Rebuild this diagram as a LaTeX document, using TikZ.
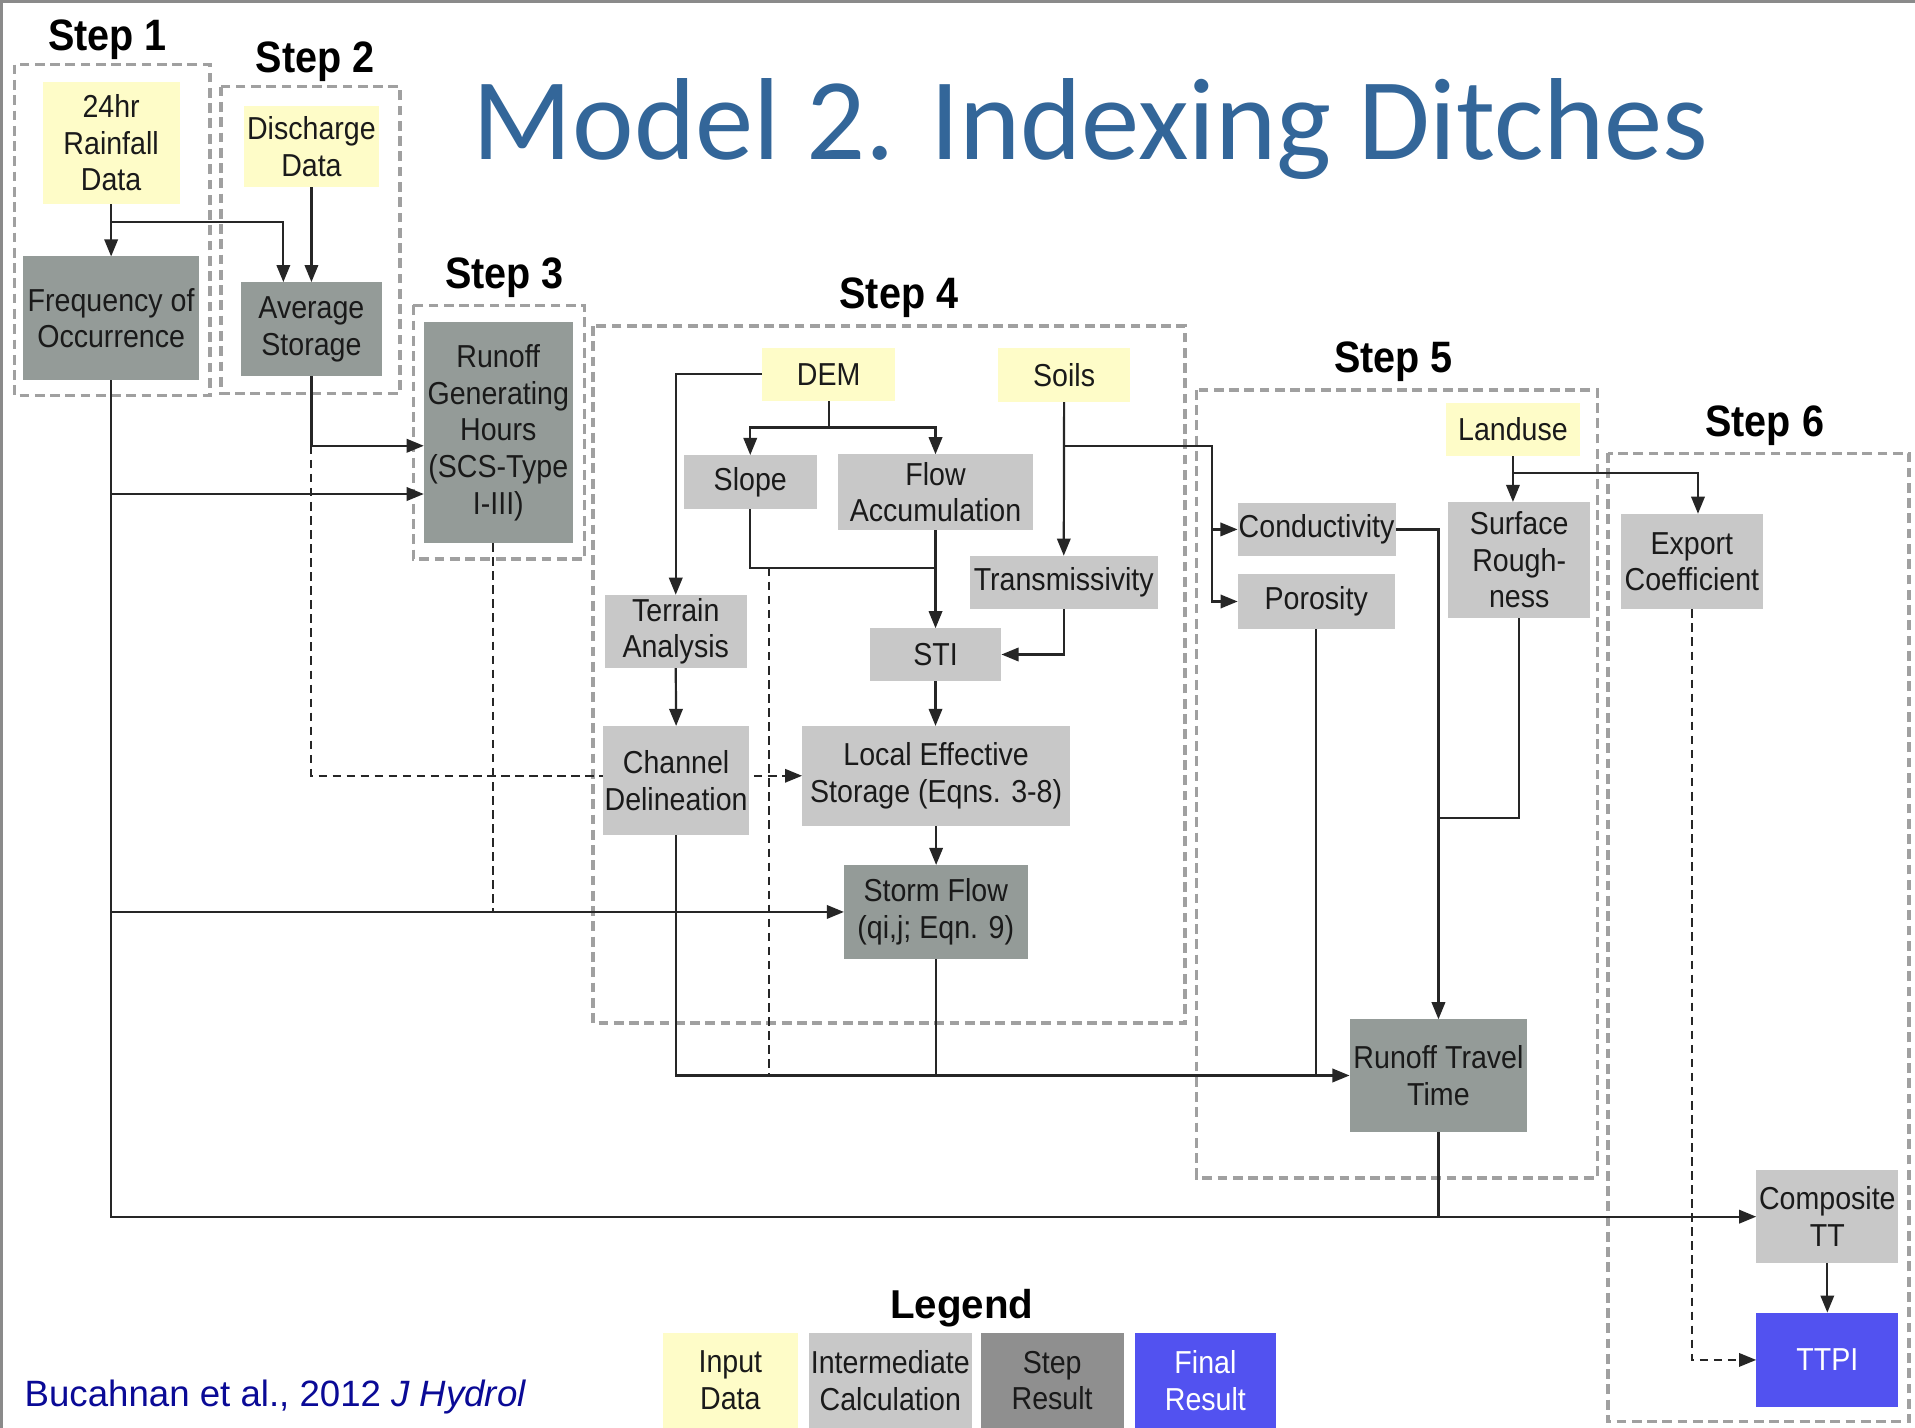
\documentclass[tikz,border=0pt]{standalone}
\usepackage{fontspec}
\setmainfont{Liberation Sans}
\newfontfamily\boxfont{Liberation Sans}[FakeStretch=0.9]
\newfontfamily\titlefont{Carlito}
\usetikzlibrary{arrows.meta,calc}
\pgfdeclarelayer{background}
\pgfsetlayers{background,main}
\definecolor{inputc}{HTML}{FEFCC8}
\definecolor{interc}{HTML}{C8C8C8}
\definecolor{stepc}{HTML}{949B98}
\definecolor{lstepc}{HTML}{8F8F8F}
\definecolor{finalc}{HTML}{5252F0}
\definecolor{grpc}{HTML}{A0A0A0}
\definecolor{linec}{HTML}{262626}
\definecolor{txtc}{HTML}{1A1A1A}
\definecolor{titlec}{HTML}{336699}
\definecolor{citec}{HTML}{0A0A96}
\definecolor{framec}{HTML}{8A8A8A}
\begin{document}
\begin{tikzpicture}[x=1pt,y=-1pt,
  box/.style={inner sep=0pt, outer sep=0pt, align=center, text=txtc, font=\boxfont\fontsize{26}{30}\selectfont},
  inp/.style={box, fill=inputc},
  mid/.style={box, fill=interc},
  res/.style={box, fill=stepc},
  lres/.style={box, fill=lstepc},
  fin/.style={box, fill=finalc, text=white},
  grp/.style={draw=grpc, line width=2.8pt, dash pattern=on 8pt off 4.5pt},
  conn/.style={draw=linec, line width=1.8pt},
  arr/.style={conn, -{Triangle[length=14pt,width=11pt]}},
  dconn/.style={conn, line width=1.6pt, dash pattern=on 7pt off 4.5pt},
  darr/.style={dconn, -{Triangle[length=14pt,width=11pt]}},
  steplbl/.style={anchor=base, inner sep=0pt, font=\boxfont\bfseries\fontsize{36}{40}\selectfont, text=black},
]
\useasboundingbox (0,0) rectangle (1568,1169);

% title and labels
\node[anchor=base west, inner sep=0pt, text=titlec, font=\titlefont\fontsize{95.5}{100}\selectfont] (title) at (387,130.4) {Model 2. Indexing Ditches};
\node[steplbl] (s1) at (88,41) {Step 1};
\node[steplbl] (s2) at (258,59) {Step 2};
\node[steplbl] (s3) at (413,236) {Step 3};
\node[steplbl] (s4) at (736,252.5) {Step 4};
\node[steplbl] (s5) at (1141,305) {Step 5};
\node[steplbl] (s6) at (1445,357) {Step 6};
\node[anchor=base, inner sep=0pt, font=\bfseries\fontsize{33}{36}\selectfont, text=black] (leg) at (787.5,1079.5) {Legend};
\node[anchor=base west, inner sep=0pt, text=citec, font=\fontsize{30}{34}\selectfont] (cite) at (20,1152) {Bucahnan et al., 2012 \textit{J Hydrol}};

% nodes
\node[inp, minimum width=112pt, minimum height=100pt] (rain) at (91,117) {24hr\\Rainfall\\Data};
\node[inp, minimum width=110pt, minimum height=66pt] (disch) at (255,120) {Discharge\\Data};
\node[res, minimum width=144pt, minimum height=101pt] (freq) at (91,260.5) {Frequency of\\Occurrence};
\node[res, minimum width=116pt, minimum height=77pt] (avg) at (255,269.5) {Average\\Storage};
\node[res, minimum width=122pt, minimum height=181pt] (rgh) at (408,354.3) {Runoff\\Generating\\Hours\\(SCS-Type\\I-III)};
\node[inp, minimum width=109pt, minimum height=43pt] (dem) at (678.5,306.5) {DEM};
\node[inp, minimum width=108.5pt, minimum height=44pt] (soils) at (871.3,307) {Soils};
\node[mid, minimum width=108.5pt, minimum height=44.5pt] (slope) at (614.3,394.8) {Slope};
\node[mid, minimum width=160pt, minimum height=62pt] (flowacc) at (766,403) {Flow\\Accumulation};
\node[mid, minimum width=154pt, minimum height=44pt] (trans) at (871,477) {Transmissivity};
\node[mid, minimum width=116.5pt, minimum height=60pt] (terrain) at (553.3,517) {Terrain\\Analysis};
\node[mid, minimum width=108pt, minimum height=43pt] (sti) at (766,535.9) {STI};
\node[mid, minimum width=120pt, minimum height=89.6pt] (channel) at (553.6,639.2) {Channel\\Delineation};
\node[mid, minimum width=219.5pt, minimum height=81.6pt] (local) at (766.5,635.2) {Local Effective\\Storage (Eqns. 3-8)};
\node[res, minimum width=150.4pt, minimum height=77pt] (storm) at (766.2,746.7) {Storm Flow\\(qi,j; Eqn. 9)};
\node[inp, minimum width=109pt, minimum height=43.5pt] (landuse) at (1238.8,351.7) {Landuse};
\node[mid, minimum width=129.4pt, minimum height=43.5pt] (cond) at (1078,433.5) {Conductivity};
\node[mid, minimum width=128.6pt, minimum height=45pt] (poro) at (1077.7,492.5) {Porosity};
\node[mid, minimum width=116.2pt, minimum height=95pt] (surf) at (1243.9,458.5) {Surface\\Rough-\\ness};
\node[mid, minimum width=116.3pt, minimum height=78.3pt] (export) at (1385.3,459.8) {Export\\Coefficient};
\node[res, minimum width=145.6pt, minimum height=92pt] (rtt) at (1177.8,880.6) {Runoff Travel\\Time};
\node[mid, minimum width=116.5pt, minimum height=76.4pt] (comp) at (1496.2,996.2) {Composite\\TT};
\node[fin, minimum width=116.5pt, minimum height=77.5pt] (ttpi) at (1496.2,1113.5) {TTPI};

% legend boxes
\node[inp, minimum width=110pt, minimum height=77.3pt] (linput) at (598,1130.3) {Input\\Data};
\node[mid, minimum width=134pt, minimum height=77.3pt] (linter) at (729,1130.3) {Intermediate\\Calculation};
\node[lres, minimum width=117pt, minimum height=77.3pt] (lstep) at (861.5,1130.3) {Step\\Result};
\node[fin, minimum width=116pt, minimum height=77.3pt] (lfinal) at (987,1130.3) {Final\\Result};

\begin{pgfonlayer}{background}
\fill[white] (0,0) rectangle (1568,1169);
\draw[draw=framec, line width=2.5pt] (1,1169) -- (1,1) -- (1568,1);
% group boxes
\draw[grp] (12,53) rectangle (172,324);
\draw[grp] (181,71) rectangle (327.5,322);
\draw[grp] (338.5,250) rectangle (478.6,457.6);
\draw[grp] (485.6,267) rectangle (970.4,837.5);
\draw[grp] (979.7,319.2) rectangle (1308,964.5);
\draw[grp] (1316.5,371.1) rectangle (1563,1164);

% junction coordinates
\coordinate (j1) at (91,182);
\coordinate (jd) at (678.5,350);
\coordinate (js) at (871.3,365);
\coordinate (jl) at (1238.8,387.4);
\coordinate (jsl) at (629.6,464.8);

% step 1-3 connectors
\draw[arr] (rain.south) -- (freq.north);
\draw[arr] (j1) -| ([xshift=-23pt]avg.north);
\draw[arr] (disch.south) -- (avg.north);
\draw[arr] (avg.south) |- (rgh.west |- 0,365);
\draw[arr] (freq.south) |- (comp.west);
\draw[arr] (91,404.5) -- (rgh.west |- 0,404.5);
\draw[arr] (91,746.7) -- (storm.west);
\draw[darr] (255,365) |- (local.west);
\draw[dconn] ([xshift=-4pt]rgh.south) -- (404,746.7);

% step 4 connectors
\draw[arr] (dem.west) -| (terrain.north);
\draw[conn] (dem.south) -- (jd);
\draw[arr] (jd) -| (slope.north);
\draw[arr] (jd) -| (flowacc.north);
\draw[arr] (flowacc.south) -- (sti.north);
\draw[conn] (slope.south) |- (flowacc.south |- jsl);
\draw[dconn] (jsl) -- (jsl |- rtt.west);
\draw[arr] (soils.south) -- (trans.north);
\draw[arr] (trans.south) |- (sti.east);
\draw[arr] (terrain.south) -- (channel.north);
\draw[arr] (sti.south) -- (sti.south |- local.north);
\draw[arr] (local.south) -- (local.south |- storm.north);
\draw[arr] (channel.south) |- (rtt.west);
\draw[conn] (storm.south) -- (storm.south |- rtt.west);

% step 5 connectors
\draw[arr] (js) -| ($(poro.west)+(-21,0)$) -- (poro.west);
\draw[arr] (992.3,433.5) -- (cond.west);
\draw[conn] (poro.south) -- (poro.south |- rtt.west);
\draw[arr] (cond.east) -| (rtt.north);
\draw[conn] (surf.south) |- (rtt.north |- 0,670);
\draw[arr] (landuse.south) -- (landuse.south |- surf.north);
\draw[arr] (jl) -| ([xshift=5pt]export.north);

% step 6 connectors
\draw[darr] (export.south) |- (ttpi.west);
\draw[conn] (rtt.south) -- (rtt.south |- comp.west);
\draw[arr] (comp.south) -- (ttpi.north);
\end{pgfonlayer}
\end{tikzpicture}
\end{document}
